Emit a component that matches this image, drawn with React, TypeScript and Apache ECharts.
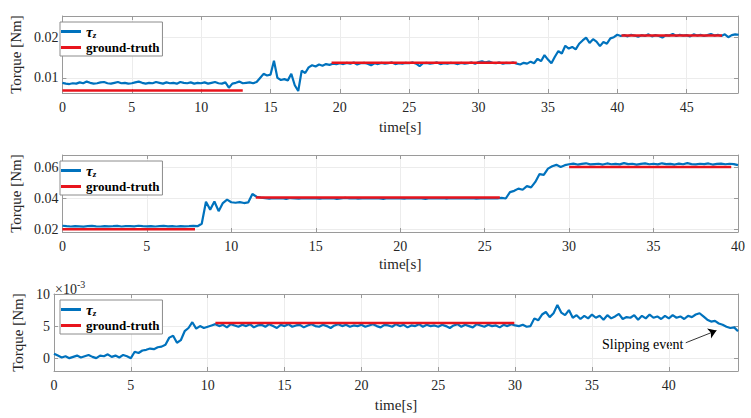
import React, { useEffect, useRef } from "react";
import * as echarts from "echarts";

const DT = 0.25;
const FONT = "'Liberation Serif', 'Times New Roman', 'DejaVu Serif', serif";

// Panel 1 (top): measured torque tau_z [Nm], sampled every DT seconds from 0
const TAU1 = [
  0.0088, 0.0086, 0.0085, 0.0087, 0.0086, 0.0089, 0.0087, 0.0091, 0.0088, 0.0086, 0.0087, 0.0089, 0.0090, 0.0087, 0.0086, 0.0088, 0.0090, 0.0087, 0.0088, 0.0086,
  0.0087, 0.0089, 0.0091, 0.0088, 0.0086, 0.0088, 0.0087, 0.0090, 0.0088, 0.0086, 0.0089, 0.0087, 0.0088, 0.0086, 0.0090, 0.0088, 0.0087, 0.0089, 0.0086, 0.0088,
  0.0087, 0.0089, 0.0086, 0.0088, 0.0090, 0.0087, 0.0086, 0.0089, 0.0076, 0.0086, 0.0088, 0.0091, 0.0087, 0.0088, 0.0089, 0.0087, 0.0090, 0.0100, 0.0110, 0.0106,
  0.0108, 0.0142, 0.0100, 0.0095, 0.0097, 0.0094, 0.0110, 0.0082, 0.0068, 0.0118, 0.0112, 0.0126, 0.0131, 0.0128, 0.0133, 0.0130, 0.0134, 0.0132, 0.0135, 0.0134,
  0.0136, 0.0134, 0.0137, 0.0135, 0.0138, 0.0133, 0.0136, 0.0137, 0.0135, 0.0131, 0.0136, 0.0134, 0.0137, 0.0135, 0.0136, 0.0138, 0.0134, 0.0136, 0.0135, 0.0137,
  0.0136, 0.0138, 0.0135, 0.0129, 0.0136, 0.0137, 0.0135, 0.0136, 0.0138, 0.0134, 0.0136, 0.0135, 0.0137, 0.0136, 0.0134, 0.0137, 0.0135, 0.0136, 0.0138, 0.0135,
  0.0139, 0.0141, 0.0138, 0.0140, 0.0137, 0.0136, 0.0138, 0.0135, 0.0137, 0.0136, 0.0138, 0.0135, 0.0133, 0.0137, 0.0135, 0.0140, 0.0136, 0.0147, 0.0141, 0.0156,
  0.0145, 0.0136, 0.0152, 0.0166, 0.0160, 0.0179, 0.0172, 0.0176, 0.0170, 0.0184, 0.0192, 0.0199, 0.0186, 0.0195, 0.0189, 0.0178, 0.0188, 0.0184, 0.0197, 0.0200,
  0.0206, 0.0203, 0.0205, 0.0202, 0.0206, 0.0204, 0.0201, 0.0205, 0.0203, 0.0207, 0.0202, 0.0205, 0.0203, 0.0199, 0.0205, 0.0204, 0.0208, 0.0203, 0.0206, 0.0204,
  0.0205, 0.0202, 0.0207, 0.0204, 0.0206, 0.0203, 0.0205, 0.0208, 0.0204, 0.0206, 0.0203, 0.0207, 0.0200, 0.0205, 0.0207, 0.0206,
];
const GT1_START = [0, 19.4, 40.3];
const GT1_END = [13.0, 32.75, 47.55];
const GT1_VAL = [0.0069, 0.0137, 0.0204];

// Panel 2 (middle)
const TAU2 = [
  0.0225, 0.0222, 0.0220, 0.0223, 0.0221, 0.0219, 0.0222, 0.0224, 0.0221, 0.0220, 0.0223, 0.0221, 0.0222, 0.0224, 0.0220, 0.0222, 0.0223, 0.0221, 0.0225, 0.0222,
  0.0221, 0.0223, 0.0220, 0.0222, 0.0224, 0.0221, 0.0222, 0.0220, 0.0223, 0.0221, 0.0222, 0.0224, 0.0222, 0.0238, 0.0378, 0.0328, 0.0380, 0.0318, 0.0370, 0.0392,
  0.0375, 0.0372, 0.0376, 0.0370, 0.0374, 0.0428, 0.0410, 0.0405, 0.0401, 0.0398, 0.0402, 0.0399, 0.0401, 0.0397, 0.0402, 0.0400, 0.0398, 0.0401, 0.0399, 0.0402,
  0.0400, 0.0398, 0.0402, 0.0399, 0.0401, 0.0397, 0.0400, 0.0403, 0.0399, 0.0401, 0.0398, 0.0400, 0.0402, 0.0399, 0.0401, 0.0400, 0.0397, 0.0401, 0.0399, 0.0402,
  0.0400, 0.0398, 0.0401, 0.0399, 0.0402, 0.0400, 0.0397, 0.0401, 0.0399, 0.0400, 0.0402, 0.0398, 0.0401, 0.0399, 0.0400, 0.0402, 0.0399, 0.0401, 0.0398, 0.0400,
  0.0401, 0.0399, 0.0402, 0.0400, 0.0403, 0.0399, 0.0440, 0.0448, 0.0462, 0.0455, 0.0478, 0.0470, 0.0505, 0.0555, 0.0550, 0.0590, 0.0605, 0.0614, 0.0601, 0.0612,
  0.0618, 0.0622, 0.0616, 0.0620, 0.0624, 0.0617, 0.0619, 0.0621, 0.0616, 0.0623, 0.0618, 0.0620, 0.0617, 0.0625, 0.0619, 0.0621, 0.0616, 0.0620, 0.0623, 0.0618,
  0.0621, 0.0617, 0.0624, 0.0619, 0.0620, 0.0616, 0.0622, 0.0618, 0.0625, 0.0619, 0.0617, 0.0621, 0.0619, 0.0623, 0.0616, 0.0620, 0.0622, 0.0618, 0.0621, 0.0619,
  0.0612,
];
const GT2_START = [0, 11.45, 30.0];
const GT2_END = [7.85, 25.9, 39.6];
const GT2_VAL = [0.0203, 0.0405, 0.0600];

// Panel 3 (bottom), values in 1e-3 Nm
const TAU3 = [
  0.7, 0.4, 0.1, 0.3, 0.0, 0.2, 0.4, 0.1, 0.3, 0.5, 0.2, 0.0, 0.4, 0.3, 0.6, 0.2, 0.4, 0.1, 0.5, 0.3,
  0.0, 1.0, 0.8, 1.2, 1.3, 1.5, 1.4, 1.7, 1.8, 2.1, 3.2, 3.5, 2.4, 2.8, 4.2, 4.7, 5.6, 4.6, 5.0, 4.7,
  4.9, 5.1, 5.3, 5.0, 5.2, 4.8, 5.3, 5.1, 4.9, 5.2, 5.0, 5.3, 4.8, 5.1, 5.2, 4.9, 5.3, 5.0, 4.7, 5.2,
  5.0, 5.3, 4.9, 5.1, 5.2, 4.8, 5.1, 5.3, 5.0, 4.9, 5.2, 5.0, 4.7, 5.1, 5.3, 5.0, 5.2, 4.9, 5.1, 5.0,
  5.2, 4.9, 5.1, 5.3, 5.0, 4.8, 5.2, 5.1, 4.9, 5.3, 5.0, 5.2, 4.8, 5.1, 5.0, 5.3, 4.9, 5.2, 5.0, 5.1,
  4.9, 5.2, 5.0, 4.7, 5.1, 5.3, 4.9, 5.2, 5.0, 4.8, 5.3, 5.1, 4.9, 5.2, 5.0, 5.1, 4.8, 5.2, 5.0, 5.3,
  5.1, 5.0, 5.2, 4.9, 5.0, 6.2, 5.9, 6.8, 7.2, 6.4, 7.0, 8.3, 7.1, 6.7, 7.5, 6.3, 6.7, 6.1, 6.6, 6.2,
  6.8, 6.3, 6.6, 6.0, 6.7, 6.2, 6.5, 6.9, 6.1, 6.4, 6.3, 6.7, 6.0, 6.6, 6.2, 6.8, 6.3, 6.5, 6.1, 6.6,
  6.2, 6.7, 6.3, 6.5, 6.1, 6.6, 6.4, 6.8, 7.0, 6.5, 6.0, 5.7, 5.8, 5.4, 5.2, 4.9, 4.7, 4.8, 4.2,
];
const GT3_START = [10.5];
const GT3_END = [29.95];
const GT3_VAL = [5.5];

const X_MAX = [48.7, 40, 44.5];
const Y_MIN = [0.0063, 0.0185, -2];
const Y_MAX = [0.0252, 0.0677, 10];
const Y_TICKS = [
  [0.01, 0.02],
  [0.02, 0.04, 0.06],
  [0, 5, 10],
];
const X_TICK_STEP = 5;
const ARROW_FROM = [41.1, 2.4];
const ARROW_TO = [43.1, 4.3];

const BLUE = "#0072BD";
const RED = "#E8141C";
const AXIS_COLOR = "#9a9a9a";
const GRID_COLOR = "#ececec";
const TEXT_COLOR = "#262626";

const GRID_TOPS = [16, 155, 294];
const GRID_H = 77;
const LEFT = 54;
const WIDTH = 684;

export default function App() {
  const ref = useRef<HTMLDivElement>(null);

  useEffect(() => {
    if (!ref.current) return;
    const chart = echarts.init(ref.current, undefined, { renderer: "svg" });

    const taus = [TAU1, TAU2, TAU3];
    const gts = [
      [GT1_START, GT1_END, GT1_VAL],
      [GT2_START, GT2_END, GT2_VAL],
      [GT3_START, GT3_END, GT3_VAL],
    ];

    const grids = GRID_TOPS.map((t) => ({
      left: LEFT,
      top: t,
      width: WIDTH,
      height: GRID_H,
      show: false,
    }));

    const xAxes: any[] = [];
    const yAxes: any[] = [];
    [0, 1, 2].forEach((p) => {
      xAxes.push({
        type: "value",
        gridIndex: p,
        min: 0,
        max: X_MAX[p],
        interval: X_TICK_STEP,
        position: "bottom",
        name: "time[s]",
        nameLocation: "middle",
        nameGap: p === 1 ? 24 : 26,
        nameTextStyle: { fontFamily: FONT, fontSize: 15, color: TEXT_COLOR },
        axisLine: { show: true, onZero: false, lineStyle: { color: AXIS_COLOR, width: 1 } },
        axisTick: { show: true, inside: true, length: 4, lineStyle: { color: AXIS_COLOR } },
        axisLabel: {
          fontFamily: FONT,
          fontSize: 14,
          color: TEXT_COLOR,
          margin: 7,
          showMaxLabel: p === 1,
        },
        splitLine: { show: true, lineStyle: { color: GRID_COLOR, width: 1 } },
      });
      yAxes.push({
        type: "value",
        gridIndex: p,
        min: Y_MIN[p],
        max: Y_MAX[p],
        position: "left",
        name: "Torque [Nm]",
        nameLocation: "middle",
        nameRotate: 90,
        nameGap: p === 2 ? 22 : 32,
        nameTextStyle: { fontFamily: FONT, fontSize: 15, color: TEXT_COLOR },
        axisLine: { show: true, onZero: false, lineStyle: { color: AXIS_COLOR, width: 1 } },
        axisTick: {
          show: true,
          inside: true,
          length: 4,
          customValues: Y_TICKS[p],
          lineStyle: { color: AXIS_COLOR },
        },
        axisLabel: {
          fontFamily: FONT,
          fontSize: 14,
          color: TEXT_COLOR,
          margin: 4,
          customValues: Y_TICKS[p],
        },
        splitLine: { show: true, lineStyle: { color: GRID_COLOR, width: 1 } },
      });
    });
    [0, 1, 2].forEach((p) => {
      xAxes.push({
        type: "value",
        gridIndex: p,
        min: 0,
        max: X_MAX[p],
        interval: X_TICK_STEP,
        position: "top",
        axisLine: { show: true, onZero: false, lineStyle: { color: AXIS_COLOR, width: 1 } },
        axisTick: { show: true, inside: true, length: 4, lineStyle: { color: AXIS_COLOR } },
        axisLabel: { show: false },
        splitLine: { show: false },
      });
      yAxes.push({
        type: "value",
        gridIndex: p,
        min: Y_MIN[p],
        max: Y_MAX[p],
        position: "right",
        axisLine: { show: true, onZero: false, lineStyle: { color: AXIS_COLOR, width: 1 } },
        axisTick: {
          show: true,
          inside: true,
          length: 4,
          customValues: Y_TICKS[p],
          lineStyle: { color: AXIS_COLOR },
        },
        axisLabel: { show: false, customValues: Y_TICKS[p] },
        splitLine: { show: false },
      });
    });

    const series: any[] = [];
    [0, 1, 2].forEach((p) => {
      const s: any = {
        type: "line",
        name: "tau",
        xAxisIndex: p,
        yAxisIndex: p,
        data: taus[p].map((v, i) => [i * DT, v]),
        showSymbol: false,
        symbol: "none",
        silent: true,
        color: BLUE,
        itemStyle: { color: BLUE },
        lineStyle: { color: BLUE, width: 2.2 },
        z: 2,
      };
      if (p === 2) {
        s.markLine = {
          silent: true,
          symbol: ["none", "arrow"],
          symbolSize: 8,
          label: { show: false },
          lineStyle: { color: "#000", width: 0.8, type: "solid" },
          itemStyle: { color: "#000" },
          data: [[{ coord: ARROW_FROM }, { coord: ARROW_TO }]],
        };
      }
      series.push(s);
      const [st, en, val] = gts[p];
      st.forEach((x0, k) => {
        series.push({
          type: "line",
          name: "gt",
          xAxisIndex: p,
          yAxisIndex: p,
          data: [
            [x0, val[k]],
            [en[k], val[k]],
          ],
          showSymbol: false,
          symbol: "none",
          silent: true,
          color: RED,
          itemStyle: { color: RED },
          lineStyle: { color: RED, width: 2.5 },
          z: 3,
        });
      });
    });

    const legendTops = [22, 161, 300];
    const legends = legendTops.map((t) => ({
      left: 60,
      top: t,
      orient: "vertical",
      data: ["tau", "gt"],
      selectedMode: false,
      backgroundColor: "#fff",
      borderColor: "#8c8c8c",
      borderWidth: 1,
      borderRadius: 0,
      padding: [2, 3, 2, 1],
      itemGap: 2,
      itemWidth: 20,
      itemHeight: 3,
      icon: "rect",
      formatter: (name: string) => (name === "tau" ? "{t|τ}{s|z}" : "{g|ground-truth}"),
      textStyle: {
        fontFamily: FONT,
        fontSize: 13,
        color: "#000",
        rich: {
          t: { fontFamily: FONT, fontSize: 15, fontStyle: "italic", fontWeight: "bold", color: "#000" },
          s: { fontFamily: FONT, fontSize: 9, fontStyle: "italic", fontWeight: "bold", color: "#000", padding: [6, 0, 0, 0] },
          g: { fontFamily: FONT, fontSize: 13, fontWeight: "bold", color: "#000" },
        },
      },
    }));

    chart.setOption({
      animation: false,
      backgroundColor: "#ffffff",
      grid: grids,
      xAxis: xAxes,
      yAxis: yAxes,
      legend: legends,
      series,
      graphic: [
        {
          type: "text",
          left: 55,
          top: 279,
          style: {
            text: "{a|×10}{b|-3}",
            rich: {
              a: { fontFamily: FONT, fontSize: 14, fill: TEXT_COLOR, padding: [4, 0, 0, 0] },
              b: { fontFamily: FONT, fontSize: 10, fill: TEXT_COLOR, padding: [0, 0, 6, 0] },
            },
          },
        },
        {
          type: "text",
          left: 602,
          top: 337,
          style: {
            text: "Slipping event",
            fontFamily: FONT,
            fontSize: 14,
            fill: "#000",
          },
        },
      ],
    });

    return () => chart.dispose();
  }, []);

  return (
    <div
      ref={ref}
      style={{ position: "absolute", left: 0, top: 0, width: 751, height: 418, background: "#fff" }}
    />
  );
}
